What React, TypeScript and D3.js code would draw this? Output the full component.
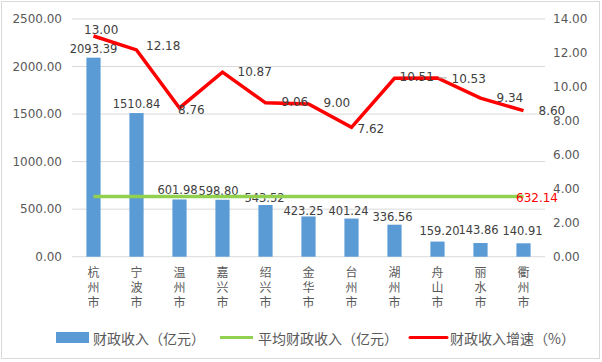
import React from "react";
import * as d3 from "d3";

const cities = ["杭州市", "宁波市", "温州市", "嘉兴市", "绍兴市", "金华市", "台州市", "湖州市", "舟山市", "丽水市", "衢州市"];
const revenue = [2093.39, 1510.84, 601.98, 598.8, 543.52, 423.25, 401.24, 336.56, 159.2, 143.86, 140.91];
const growth = [13.0, 12.18, 8.76, 10.87, 9.06, 9.0, 7.62, 10.51, 10.53, 9.34, 8.6];
const average = 632.14;
const leftTicks = [0, 500, 1000, 1500, 2000, 2500];
const rightTicks = [0, 2, 4, 6, 8, 10, 12, 14];

// hand nudges for labels, like the excel original
const barLabelNudge = [[0, -5], [0, -5], [-2, -5], [-4, -5], [-1, -3], [-5, -1], [-3, -3.5], [-2, -4], [2, -7], [-2, -9], [-1, -8]];
const lineLabelNudge = [[-9.5, -6], [9.5, -4], [-1.5, 2], [15, 0], [16, -1], [15, -1], [6, 2], [5, -1], [14, 1], [16, 0], [15, 0]];

const W = 602;
const H = 362;
const left = 72;
const right = 545;
const top = 19;
const bottom = 256.7;

const num = "'DejaVu Sans', sans-serif";
const cjk = "'Noto Sans CJK SC', sans-serif";

const App = () => {
  const x = d3.scaleBand<string>().domain(cities).range([left, right]).paddingInner(0.67).paddingOuter(0.335);
  const yL = d3.scaleLinear().domain([0, 2500]).range([bottom, top]);
  const yR = d3.scaleLinear().domain([0, 14]).range([bottom, top]);
  const cx = (c: string) => (x(c) as number) + x.bandwidth() / 2;

  const line = d3
    .line<number>()
    .x((_, i) => cx(cities[i]))
    .y((d) => yR(d));

  return (
    <div style={{ position: "fixed", left: 0, top: 0 }}>
      <svg width={W} height={H} style={{ display: "block", background: "#fff" }}>
        <rect x={1.5} y={1.5} width={598} height={357} fill="#fff" stroke="#d9d9d9" />
        {leftTicks.map((t) => (
          <g key={"l" + t}>
            <line x1={left} x2={right} y1={yL(t)} y2={yL(t)} stroke="#d9d9d9" strokeWidth={1} />
            <text x={62} y={yL(t)} textAnchor="end" dominantBaseline="central" fontFamily={num} fontSize={12} fill="#595959">
              {t.toFixed(2)}
            </text>
          </g>
        ))}
        {rightTicks.map((t) => (
          <text key={"r" + t} x={553} y={yR(t)} dominantBaseline="central" fontFamily={num} fontSize={12} fill="#595959">
            {t.toFixed(2)}
          </text>
        ))}
        {cities.map((c, i) => (
          <g key={c}>
            <rect x={x(c)} y={yL(revenue[i])} width={x.bandwidth()} height={bottom - yL(revenue[i])} fill="#5b9bd5" />
            <text
              x={cx(c) + barLabelNudge[i][0]}
              y={yL(revenue[i]) + barLabelNudge[i][1]}
              textAnchor="middle"
              fontFamily={num}
              fontSize={11.5}
              fill="#404040"
            >
              {revenue[i].toFixed(2)}
            </text>
            <text
              x={cx(c)}
              y={266}
              style={{ writingMode: "vertical-rl", letterSpacing: "3px" }}
              fontFamily={cjk}
              fontSize={12}
              fill="#595959"
            >
              {c}
            </text>
          </g>
        ))}
        <line x1={cx(cities[0])} x2={cx(cities[cities.length - 1])} y1={yL(average)} y2={yL(average)} stroke="#92d050" strokeWidth={3.5} />
        <path d={line(growth) || ""} fill="none" stroke="#ff0000" strokeWidth={3.5} strokeLinejoin="miter" />
        {growth.map((g, i) => (
          <text
            key={"g" + i}
            x={cx(cities[i]) + lineLabelNudge[i][0]}
            y={yR(g) + lineLabelNudge[i][1]}
            dominantBaseline="central"
            fontFamily={num}
            fontSize={12}
            fill="#404040"
          >
            {g.toFixed(2)}
          </text>
        ))}
        <line x1={cx(cities[8]) + 1} x2={cx(cities[8]) + 9} y1={yR(growth[8])} y2={yR(growth[8])} stroke="#a6a6a6" strokeWidth={1} />
        <text x={516} y={yL(average) + 1} dominantBaseline="central" fontFamily={num} fontSize={12} fill="#ff0000">
          {average.toFixed(2)}
        </text>
        {/* legend */}
        <rect x={56} y={332} width={33} height={11} fill="#5b9bd5" />
        <text x={93} y={337.5} dominantBaseline="central" fontFamily={cjk} fontSize={14} fill="#595959">财政收入（亿元）</text>
        <line x1={220} x2={253} y1={337.5} y2={337.5} stroke="#92d050" strokeWidth={3} />
        <text x={258} y={337.5} dominantBaseline="central" fontFamily={cjk} fontSize={14} fill="#595959">平均财政收入（亿元）</text>
        <line x1={410} x2={447} y1={337.5} y2={337.5} stroke="#ff0000" strokeWidth={3} strokeLinecap="round" />
        <text x={450} y={337.5} dominantBaseline="central" fontFamily={cjk} fontSize={14} fill="#595959">财政收入增速（%）</text>
      </svg>
    </div>
  );
};

export default App;
